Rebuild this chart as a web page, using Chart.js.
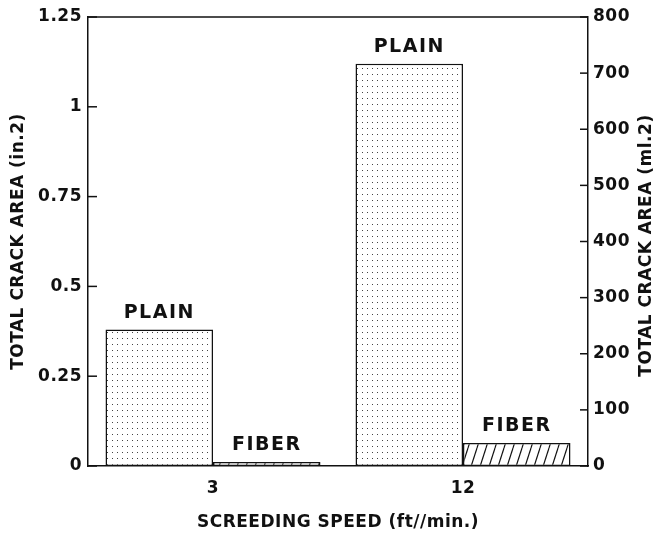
<!DOCTYPE html>
<html>
<head>
<meta charset="utf-8">
<script src="https://cdn.jsdelivr.net/npm/chart.js@4.4.1/dist/chart.umd.min.js"></script>
<style>
  html, body { margin: 0; padding: 0; background: #fff; }
  #wrap { width: 660px; height: 537px; position: relative; }
</style>
</head>
<body>
<div id="wrap"><canvas id="crackChart"></canvas></div>
<script>
// data
const speeds = ['3', '12'];
const seriesNames = ['PLAIN', 'FIBER'];
const plainArea = [0.38, 1.12];     // in.2
const fiberArea = [0.011, 0.064];   // in.2
const leftAxisMax = 1.25;
const leftAxisStep = 0.25;
const rightAxisMax = 800;
const rightAxisStep = 100;
const rightTitle = 'TOTAL CRACK AREA (ml.2)';

const FONT = "'DejaVu Sans', sans-serif";

document.addEventListener('DOMContentLoaded', () => {
    const ctx = document.getElementById('crackChart').getContext('2d');

    // fill patterns: dots for plain, slashes for fiber
    const dotPattern = () => {
        const c = document.createElement('canvas');
        c.width = 5; c.height = 6;
        const p = c.getContext('2d');
        p.fillStyle = '#fff';
        p.fillRect(0, 0, 5, 6);
        p.fillStyle = '#444';
        p.fillRect(2, 2, 1, 1);
        return ctx.createPattern(c, 'repeat');
    };
    const hatchPattern = () => {
        const c = document.createElement('canvas');
        c.width = 9; c.height = 28;
        const p = c.getContext('2d');
        p.fillStyle = '#fff';
        p.fillRect(0, 0, 9, 28);
        p.strokeStyle = '#111';
        p.lineWidth = 1.2;
        [-9, 0, 9].forEach(dx => {
            p.beginPath();
            p.moveTo(dx, 28);
            p.lineTo(dx + 9, 0);
            p.stroke();
        });
        return ctx.createPattern(c, 'repeat');
    };

    // inward tick marks, top frame line, right title and bar labels
    const framePlugin = {
        id: 'frame',
        beforeDraw: (chart) => {
            chart.ctx.letterSpacing = '0.5px';
        },
        afterDatasetsDraw: (chart) => {
            const c = chart.ctx;
            const area = chart.chartArea;
            c.save();
            c.strokeStyle = '#111';
            c.lineWidth = 1.5;
            c.beginPath();
            c.moveTo(area.left, area.top);
            c.lineTo(area.right, area.top);
            c.stroke();

            const yl = chart.scales.y;
            yl.ticks.forEach(t => {
                const py = yl.getPixelForValue(t.value);
                c.beginPath();
                c.moveTo(area.left, py);
                c.lineTo(area.left + 9, py);
                c.stroke();
            });
            const yr = chart.scales.y2;
            yr.ticks.forEach(t => {
                const py = yr.getPixelForValue(t.value);
                c.beginPath();
                c.moveTo(area.right, py);
                c.lineTo(area.right - 8, py);
                c.stroke();
            });

            c.fillStyle = '#111';
            // right axis title reads bottom to top, like the left one
            c.save();
            c.font = `bold 17px ${FONT}`;
            c.letterSpacing = '0.5px';
            c.textAlign = 'center';
            c.textBaseline = 'middle';
            c.translate(647, (area.top + area.bottom) / 2 + 4);
            c.rotate(-Math.PI / 2);
            c.fillText(rightTitle, 0, 0);
            c.restore();

            c.font = `bold 19px ${FONT}`;
            c.letterSpacing = '1.5px';
            c.textAlign = 'center';
            c.textBaseline = 'bottom';
            chart.data.datasets.forEach((ds, i) => {
                chart.getDatasetMeta(i).data.forEach(bar => {
                    c.fillText(ds.label, bar.x, bar.y - 7);
                });
            });
            c.restore();
        }
    };

    new Chart(ctx, {
        type: 'bar',
        data: {
            labels: speeds,
            datasets: [{
                label: seriesNames[0],
                data: plainArea,
                yAxisID: 'y',
                backgroundColor: dotPattern(),
                borderColor: '#111',
                borderWidth: 1.5,
                borderSkipped: false
            }, {
                label: seriesNames[1],
                data: fiberArea,
                yAxisID: 'y',
                backgroundColor: hatchPattern(),
                borderColor: '#111',
                borderWidth: 1.5,
                borderSkipped: false
            }]
        },
        options: {
            responsive: true,
            maintainAspectRatio: false,
            animation: false,
            events: [],
            categoryPercentage: 0.86,
            barPercentage: 1.0,
            layout: { padding: { top: 17 } },
            plugins: {
                legend: { display: false },
                tooltip: { enabled: false }
            },
            scales: {
                x: {
                    grid: { display: false, drawTicks: false },
                    border: { color: '#111', width: 1.5 },
                    ticks: { color: '#111', font: { family: FONT, size: 17, weight: 'bold' }, padding: 12 },
                    title: {
                        display: true,
                        text: 'SCREEDING SPEED (ft//min.)',
                        color: '#111',
                        font: { family: FONT, size: 17, weight: 'bold' },
                        padding: { top: 12 }
                    },
                    afterFit: (s) => { s.height = 71; }
                },
                y: {
                    position: 'left',
                    min: 0,
                    max: leftAxisMax,
                    grid: { display: false, drawTicks: false },
                    border: { color: '#111', width: 1.5 },
                    ticks: {
                        stepSize: leftAxisStep,
                        color: '#111',
                        font: { family: FONT, size: 17, weight: 'bold' },
                        padding: 6,
                        callback: (v) => String(+v.toFixed(2))
                    },
                    title: {
                        display: true,
                        text: 'TOTAL CRACK AREA (in.2)',
                        color: '#111',
                        font: { family: FONT, size: 17, weight: 'bold' },
                        padding: { top: 8, bottom: 0 }
                    },
                    afterFit: (s) => { s.width = 88; }
                },
                y2: {
                    position: 'right',
                    min: 0,
                    max: rightAxisMax,
                    grid: { display: false, drawTicks: false },
                    border: { color: '#111', width: 1.5 },
                    ticks: { stepSize: rightAxisStep, color: '#111', font: { family: FONT, size: 17, weight: 'bold' }, padding: 5 },
                    afterFit: (s) => { s.width = 72; }
                }
            }
        },
        plugins: [framePlugin]
    });
});
</script>
</body>
</html>
